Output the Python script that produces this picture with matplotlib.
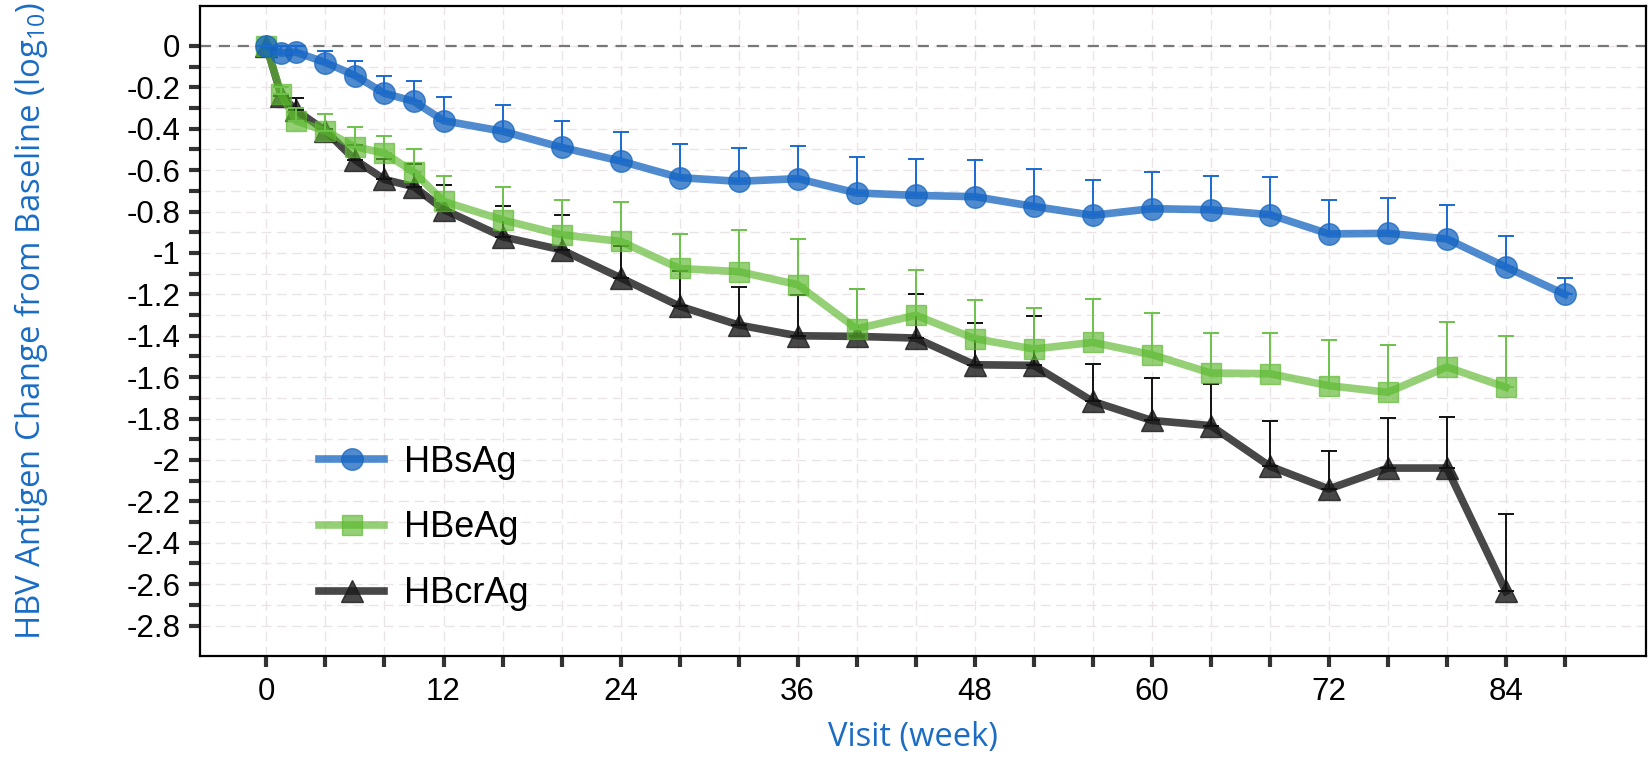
import numpy as np
import matplotlib
matplotlib.use("Agg")
import matplotlib.pyplot as plt

# weeks for each series
weeks_s = [0, 1, 2, 4, 6, 8, 10, 12, 16, 20, 24, 28, 32, 36, 40, 44, 48, 52, 56, 60, 64, 68, 72, 76, 80, 84, 88]
weeks_e = weeks_s[:-1]

# HBsAg
hbsag = [0, -0.035, -0.03, -0.08, -0.143, -0.229, -0.268, -0.361, -0.412, -0.49, -0.556, -0.636, -0.654,
         -0.641, -0.71, -0.722, -0.728, -0.775, -0.818, -0.786, -0.791, -0.815, -0.908, -0.905, -0.932,
         -1.068, -1.2]
hbsag_err = [0, 0.035, 0.03, 0.054, 0.072, 0.086, 0.10, 0.116, 0.127, 0.129, 0.142, 0.164, 0.163, 0.156,
             0.174, 0.178, 0.177, 0.179, 0.171, 0.179, 0.164, 0.18, 0.164, 0.172, 0.162, 0.148, 0.081]

# HBeAg
hbeag = [0, -0.234, -0.362, -0.411, -0.487, -0.518, -0.61, -0.751, -0.84, -0.912, -0.944, -1.075, -1.09,
         -1.153, -1.366, -1.301, -1.414, -1.464, -1.432, -1.491, -1.58, -1.583, -1.641, -1.673, -1.551, -1.649]
hbeag_err = [0, 0.036, 0.06, 0.08, 0.095, 0.085, 0.11, 0.124, 0.16, 0.168, 0.188, 0.167, 0.20, 0.22, 0.19,
             0.22, 0.185, 0.20, 0.21, 0.20, 0.195, 0.198, 0.222, 0.23, 0.218, 0.249]

# HBcrAg
hbcrag = [0, -0.24, -0.31, -0.41, -0.55, -0.645, -0.68, -0.79, -0.922, -0.985, -1.12, -1.257, -1.348, -1.40,
          -1.403, -1.411, -1.54, -1.543, -1.717, -1.809, -1.834, -2.03, -2.14, -2.039, -2.039, -2.635]
hbcrag_err = [0, 0.04, 0.06, 0.01, 0.07, 0.1, 0.11, 0.12, 0.15, 0.17, 0.155, 0.17, 0.184, 0.197, 0.23, 0.214,
              0.2, 0.237, 0.182, 0.205, 0.2, 0.22, 0.185, 0.24, 0.245, 0.376]

x_ticks = list(range(0, 89, 4))
y_ticks = [round(-0.1 * i, 1) for i in range(29)]

plt.rcParams['font.family'] = ['Liberation Sans', 'DejaVu Sans']

fig = plt.figure(figsize=(16.52, 7.6), dpi=100)
ax = fig.add_axes([0.1211, 0.1368, 0.8753, 0.8553])

series = [
    (weeks_s, hbsag, hbsag_err, 'HBsAg', '#1565c0', '#1a6ad0', 'o', 15.5, 0.75),
    (weeks_e, hbeag, hbeag_err, 'HBeAg', '#5cb82e', '#6cc24a', 's', 14.5, 0.65),
    (weeks_e, hbcrag, hbcrag_err, 'HBcrAg', '#1a1a1a', '#111111', '^', 16, 0.8),
]

handles = []
for i, (wk, vals, err, name, col, ecol, mk, ms, al) in enumerate(series):
    z = 5 - i
    line, = ax.plot(wk, vals, color=col, lw=5.5, alpha=al, marker=mk, markersize=ms,
                    markeredgecolor=col, markerfacecolor=col, label=name, zorder=z)
    ax.errorbar(wk, vals, yerr=[np.zeros(len(err)), err], fmt='none', ecolor=ecol,
                elinewidth=1.4, capsize=5.5, capthick=1.4, zorder=z + 0.5)
    handles.append(line)

ax.axhline(0, color='#777777', ls=(0, (5, 3.5)), lw=1.6, zorder=1)

ax.set_xlim(-4.5, 93.5)
ax.set_ylim(-2.947, 0.193)
ax.set_xticks(x_ticks)
ax.set_xticklabels([str(t) if t % 12 == 0 else '' for t in x_ticks])
ax.set_yticks(y_ticks)
ax.set_yticklabels([(f'{v:g}' if v != 0 else '0') if i % 2 == 0 else '' for i, v in enumerate(y_ticks)])

ax.grid(True, color='#ebe4e6', lw=1, ls=(0, (7, 4)), zorder=0)
ax.set_axisbelow(True)

ax.tick_params(axis='both', length=8, width=3, color='#333333', labelsize=22.5, labelcolor='black')
ax.tick_params(axis='y', pad=6)
ax.tick_params(axis='x', pad=7)
for s in ax.spines.values():
    s.set_linewidth(1.6)
    s.set_color('black')

ax.set_ylabel(r'HBV Antigen Change from Baseline (log$_{\mathregular{10}}$)', family='Open Sans',
              fontsize=23.7, color='#1a6cc4')
ax.yaxis.set_label_coords(-0.104, 0.515)
ax.set_xlabel('Visit (week)', family='Open Sans', fontsize=23.5, color='#1a6cc4')
ax.xaxis.set_label_coords(0.493, -0.1)

ax.legend(handles=handles, loc='center left', bbox_to_anchor=(0.06, 0.197), frameon=False,
          fontsize=26, handlelength=1.8, labelspacing=0.85, handletextpad=0.55)

fig.savefig('out.png', dpi=100)
